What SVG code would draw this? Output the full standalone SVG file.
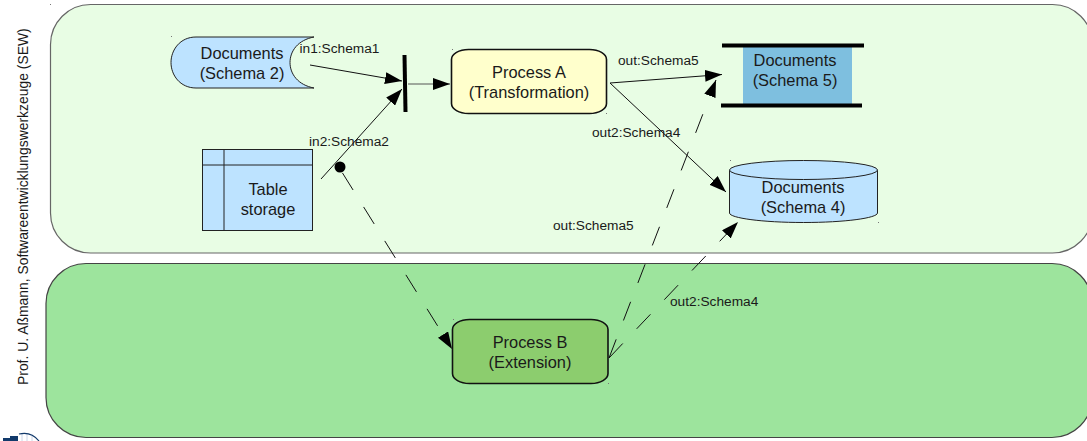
<svg xmlns="http://www.w3.org/2000/svg" width="1087" height="441" viewBox="0 0 1087 441">
<style>
text{font-family:"Liberation Sans",Arial,sans-serif;fill:#1a1a1a}
.n{font-size:16.4px;text-anchor:middle}
.l{font-size:13.7px}
.s{fill:#bde3ff;stroke:#222;stroke-width:1}
.p{stroke:#111;stroke-width:1.6}
.c{fill:none;stroke:#111;stroke-width:1}
.d{stroke-dasharray:20 20.2}
.k{fill:#777}
</style>
<defs>
<marker id="a" markerUnits="userSpaceOnUse" markerWidth="18" markerHeight="12" refX="17" refY="6" orient="auto"><path d="M0,0L17,6L0,12z" fill="#000"/></marker>
</defs>
<rect width="1087" height="441" fill="#fff"/>
<g id="panel-top"><rect x="50.500" y="4.500" width="1042" height="248.500" rx="40" ry="40" fill="#e8fde4" stroke="#666" stroke-width="1.2"/></g>
<g id="panel-bottom"><rect x="46" y="263.500" width="1046" height="174" rx="40" ry="40" fill="#9de49d" stroke="#444" stroke-width="1.2"/></g>
<text id="side" transform="translate(28,385) rotate(-90)" style="font-size:13.9px">Prof. U. Aßmann, Softwareentwicklungswerkzeuge (SEW)</text>
<g id="logo" fill="none"><path d="M3,441V438H10V436H18V441z" fill="#123a6b"/><path d="M22,434V441M27,434V441M32,436V441" stroke="#ccd6e8" stroke-width="1"/><path d="M19,434Q31,431 39,441" stroke="#123a6b" stroke-width="1.2"/></g>
<g id="doc2"><path class="s" d="M314,37H196C180,37 171,50 171,62.500C171,75 180,88 196,88H314C298,85 290,74 290,62.500C290,51 298,40 314,37z"/><text class="n" x="242" y="59">Documents</text><text class="n" x="242" y="79">(Schema 2)</text></g>
<g id="table"><rect class="s" x="202.500" y="149.500" width="110" height="81"/><path d="M202.500,165H312.500M224,149.500V230.500" stroke="#222" stroke-width="1" fill="none"/><text class="n" x="268" y="195">Table</text><text class="n" x="268" y="215">storage</text></g>
<g id="bar"><path d="M404.500,55L405.500,112" stroke="#000" stroke-width="4"/></g>
<g id="process-a"><rect class="p" x="451.500" y="49.500" width="155" height="64" rx="17" ry="10" fill="#ffffcc"/><text class="n" x="529" y="78">Process A</text><text class="n" x="529" y="98">(Transformation)</text></g>
<g id="doc5"><rect x="743" y="47" width="109" height="58" fill="#7ebfdf"/><path d="M722,45.500H864M721,105.500H862" stroke="#000" stroke-width="4"/><text class="n" x="795" y="66">Documents</text><text class="n" x="795" y="86">(Schema 5)</text></g>
<g id="doc4"><path class="s" d="M729.500,170V213C729.500,218 762,222.500 803.500,222.500C845,222.500 877.500,218 877.500,213V170z"/><ellipse class="s" cx="803.500" cy="170" rx="74" ry="9.500"/><text class="n" x="803" y="193">Documents</text><text class="n" x="803" y="213">(Schema 4)</text></g>
<g id="process-b"><rect class="p" x="452.500" y="319.500" width="155.500" height="64" rx="17" ry="10" fill="#8ccd6e"/><text class="n" x="530" y="348">Process B</text><text class="n" x="530" y="368">(Extension)</text></g>
<g id="connectors">
<path class="c" marker-end="url(#a)" d="M310,65L402,81"/>
<path class="c" marker-end="url(#a)" d="M321,179L402,89"/>
<path class="c" style="stroke:#555" marker-end="url(#a)" d="M408,84H450"/>
<path class="c" marker-end="url(#a)" d="M610,83L722,74.500"/>
<path class="c" marker-end="url(#a)" d="M610,83L726,192"/>
<circle cx="340" cy="167" r="5.500" fill="#000"/>
<path class="c" style="stroke-dasharray:20 20 20 20 20 20 20 20 20 99" marker-end="url(#a)" d="M342.500,173L452,349"/>
<path class="c d" marker-end="url(#a)" d="M609,358L716,80"/>
<path class="c d" marker-end="url(#a)" d="M609,358L738,222"/>
</g>
<g id="labels">
<text class="l" x="299.500" y="53">in1:Schema1</text>
<text class="l" x="309" y="146">in2:Schema2</text>
<text class="l" x="618" y="65">out:Schema5</text>
<text class="l" x="592" y="137">out2:Schema4</text>
<text class="l" x="553" y="230">out:Schema5</text>
<text class="l" x="670" y="306">out2:Schema4</text>
</g>
<g id="handles"><rect class="k" x="50" y="4" width="1" height="1"/><rect class="k" x="171" y="36" width="1" height="1"/><rect class="k" x="452" y="49" width="1" height="1"/><rect class="k" x="606" y="113" width="1" height="1"/><rect class="k" x="730" y="160" width="1" height="1"/><rect class="k" x="878" y="222" width="1" height="1"/><rect class="k" x="453" y="319" width="1" height="1"/><rect class="k" x="608" y="383" width="1" height="1"/></g>
</svg>
